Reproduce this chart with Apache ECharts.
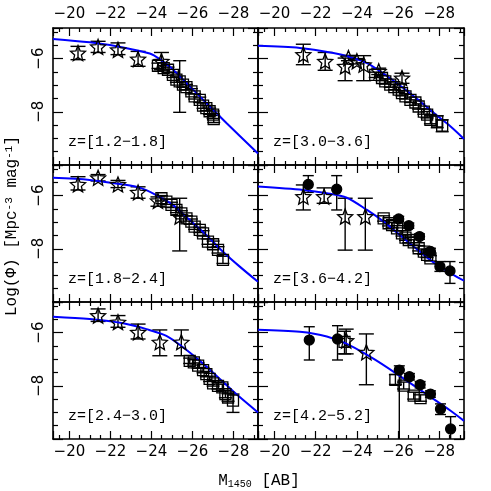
<!DOCTYPE html>
<html><head><meta charset="utf-8">
<script src="https://cdn.jsdelivr.net/npm/echarts@6/dist/echarts.min.js"></script>
<style>html,body{margin:0;padding:0;background:#fff}#c{width:491px;height:491px}</style>
</head><body><div id="c"></div>
<script>
// ---------- tick labels / panel labels ----------
const xTickLabels = [-20, -22, -24, -26, -28];
const yTickLabels = [-6, -8];
const panelLabels = ['z=[1.2\u22121.8]', 'z=[3.0\u22123.6]', 'z=[1.8\u22122.4]', 'z=[3.6\u22124.2]', 'z=[2.4\u22123.0]', 'z=[4.2\u22125.2]'];

// ---------- data: [M1450, logPhi, logPhi_low, logPhi_high] ----------
// panel 1 : z=[1.2-1.8]
const p1Stars = [
  [-20.42, -5.79, -6.04, -5.54], [-21.40, -5.56, -5.77, -5.35], [-22.37, -5.67, -5.85, -5.41],
  [-23.35, -6.02, -6.29, -5.73], [-24.49, -6.10, -6.42, -5.77]
];
const p1Squares = [
  [-24.32, -6.27, -6.37, -6.17], [-24.60, -6.36, -6.46, -6.26], [-24.81, -6.42, -6.52, -6.32],
  [-25.05, -6.61, -6.71, -6.51], [-25.22, -6.79, -6.89, -6.69], [-25.38, -6.86, -8.02, -6.08],
  [-25.54, -6.98, -7.08, -6.88], [-25.71, -7.07, -7.17, -6.97], [-25.95, -7.23, -7.33, -7.13],
  [-26.11, -7.42, -7.52, -7.32], [-26.36, -7.55, -7.65, -7.45], [-26.52, -7.77, -7.87, -7.67],
  [-26.68, -7.86, -7.96, -7.76], [-26.84, -7.98, -8.10, -7.86], [-27.01, -8.11, -8.25, -7.97],
  [-27.04, -8.27, -8.40, -8.14]
];
const p1Model = [[-19.2, -5.26], [-20.99, -5.39], [-22.62, -5.58], [-23.92, -5.81], [-24.41, -6.02],
  [-24.98, -6.36], [-25.79, -6.98], [-26.68, -7.67], [-27.66, -8.42], [-29.2, -9.57]];

// panel 2 : z=[3.0-3.6]
const p2Stars = [
  [-21.40, -5.85, -6.23, -5.46], [-22.46, -6.10, -6.44, -5.77], [-23.43, -6.29, -6.83, -5.98],
  [-23.59, -5.98, -6.08, -5.88], [-24.00, -6.10, -6.20, -6.00], [-24.33, -6.23, -6.83, -5.89],
  [-25.06, -6.48, -6.60, -6.36], [-26.19, -6.73, -6.93, -6.55]
];
const p2Squares = [
  [-24.89, -6.61, -6.71, -6.51], [-25.22, -6.73, -6.83, -6.63], [-25.38, -6.86, -6.96, -6.76],
  [-25.62, -6.98, -7.08, -6.88], [-25.82, -7.07, -7.17, -6.97], [-26.03, -7.17, -7.27, -7.07],
  [-26.19, -7.30, -7.40, -7.20], [-26.36, -7.42, -7.52, -7.32], [-26.60, -7.55, -7.65, -7.45],
  [-26.84, -7.65, -7.75, -7.55], [-27.00, -7.80, -7.90, -7.70], [-27.25, -7.99, -8.09, -7.89],
  [-27.41, -8.11, -8.23, -7.99], [-27.57, -8.30, -8.45, -8.15], [-27.90, -8.36, -8.60, -8.15],
  [-28.14, -8.52, -8.75, -8.30]
];
const p2Model = [[-19.2, -5.52], [-21.23, -5.60], [-22.86, -5.79], [-23.67, -5.94], [-24.49, -6.17],
  [-25.30, -6.57], [-26.11, -7.02], [-26.93, -7.52], [-27.74, -8.05], [-28.55, -8.55], [-29.2, -9.02]];

// panel 3 : z=[1.8-2.4]
const p3Stars = [
  [-20.42, -5.58, -5.79, -5.29], [-21.40, -5.33, -5.45, -5.21], [-22.37, -5.58, -5.70, -5.43],
  [-23.35, -5.88, -6.10, -5.67], [-24.32, -6.20, -6.40, -6.05], [-25.38, -6.79, -8.08, -6.10]
];
const p3Squares = [
  [-24.49, -6.10, -6.20, -6.00], [-24.73, -6.23, -6.33, -6.13], [-24.98, -6.35, -6.45, -6.25],
  [-25.22, -6.54, -6.64, -6.44], [-25.46, -6.67, -6.77, -6.57], [-25.71, -6.86, -6.96, -6.76],
  [-25.95, -6.98, -7.08, -6.88], [-26.11, -7.17, -7.27, -7.07], [-26.36, -7.29, -7.39, -7.19],
  [-26.52, -7.42, -7.52, -7.32], [-26.76, -7.73, -7.83, -7.63], [-27.01, -7.83, -7.95, -7.71],
  [-27.25, -8.04, -8.16, -7.92], [-27.49, -8.42, -8.55, -8.28]
];
const p3Model = [[-19.2, -5.33], [-20.99, -5.41], [-22.62, -5.58], [-23.43, -5.70], [-24.24, -5.98],
  [-25.05, -6.35], [-25.87, -6.92], [-26.68, -7.48], [-27.49, -8.11], [-28.31, -8.67], [-29.2, -9.24]];

// panel 4 : z=[3.6-4.2]
const p4Stars = [
  [-21.40, -6.04, -6.54, -5.60], [-22.41, -6.04, -6.29, -5.71],
  [-23.43, -6.79, -8.05, -6.10], [-24.41, -6.79, -8.05, -6.10]
];
const p4Squares = [
  [-25.30, -6.86, -6.96, -6.76], [-25.54, -7.04, -7.14, -6.94], [-25.71, -7.11, -7.21, -7.01],
  [-25.95, -7.23, -7.33, -7.13], [-26.19, -7.42, -7.52, -7.32], [-26.36, -7.58, -7.68, -7.48],
  [-26.52, -7.67, -7.77, -7.57], [-26.76, -7.76, -7.86, -7.66], [-27.00, -7.98, -8.08, -7.88],
  [-27.25, -8.11, -8.21, -8.01], [-27.41, -8.23, -8.33, -8.13], [-27.57, -8.36, -8.46, -8.26]
];
const p4Circles = [
  [-21.64, -5.58, -5.88, -5.25], [-23.02, -5.76, -6.54, -5.25], [-26.03, -6.88, -6.98, -6.78],
  [-26.52, -7.13, -7.23, -7.03], [-27.04, -7.54, -7.64, -7.44], [-27.57, -8.10, -8.22, -7.98],
  [-28.03, -8.67, -8.85, -8.48], [-28.52, -8.83, -9.30, -8.48]
];
const p4Model = [[-19.2, -5.66], [-21.40, -5.79], [-22.54, -5.91], [-23.51, -6.08], [-24.49, -6.54],
  [-25.30, -6.98], [-26.28, -7.61], [-27.25, -8.23], [-27.90, -8.61], [-28.55, -8.92], [-29.2, -9.20]];

// panel 5 : z=[2.4-3.0]
const p5Stars = [
  [-21.40, -5.36, -5.58, -5.11], [-22.37, -5.61, -5.80, -5.36], [-23.35, -5.99, -6.24, -5.68],
  [-24.41, -6.36, -6.87, -5.90], [-25.46, -6.36, -6.87, -5.90]
];
const p5Squares = [
  [-25.87, -7.06, -7.16, -6.96], [-26.07, -7.12, -7.22, -7.02], [-26.28, -7.24, -7.34, -7.14],
  [-26.52, -7.41, -7.51, -7.31], [-26.68, -7.56, -7.66, -7.46], [-26.84, -7.74, -7.84, -7.64],
  [-27.01, -7.91, -8.01, -7.81], [-27.25, -8.00, -8.12, -7.88], [-27.46, -8.06, -8.18, -7.94],
  [-27.61, -8.31, -8.45, -8.17], [-27.74, -8.44, -8.58, -8.30], [-27.98, -8.56, -9.00, -8.31]
];
const p5Model = [[-19.2, -5.40], [-20.99, -5.49], [-22.62, -5.65], [-23.76, -5.87], [-24.73, -6.12],
  [-25.54, -6.55], [-26.36, -7.06], [-27.17, -7.62], [-28.14, -8.31], [-29.2, -9.00]];

// panel 6 : z=[4.2-5.2]
const p6Stars = [
  [-23.48, -6.30, -6.80, -5.87], [-24.46, -6.74, -7.96, -6.05]
];
const p6Squares = [
  [-23.40, -6.35, -6.80, -5.95], [-25.87, -7.78, -7.95, -7.58], [-26.27, -7.99, -8.12, -7.86],
  [-26.76, -8.37, -8.50, -8.24], [-27.09, -8.46, -8.58, -8.34]
];
const p6Circles = [
  [-21.69, -6.28, -7.03, -5.78], [-23.06, -6.24, -7.03, -5.74], [-26.06, -7.41, -10.5, -7.25],
  [-26.55, -7.66, -7.78, -7.54], [-27.07, -7.96, -8.08, -7.84], [-27.57, -8.31, -8.43, -8.19],
  [-28.06, -8.87, -9.08, -8.68], [-28.55, -9.62, -10.5, -9.16]
];
const p6Model = [[-19.2, -5.89], [-21.23, -5.97], [-22.54, -6.15], [-23.68, -6.49], [-24.82, -6.99],
  [-25.95, -7.56], [-27.25, -8.25], [-28.55, -8.94], [-29.2, -9.32]];

// ---------- layout & style ----------
const X_MIN = -29.2, X_MAX = -19.2, Y_MIN = -10, Y_MAX = -4.85;
const COL_LEFT = [53, 258], COL_W = [205, 206];
const ROW_TOP = [28, 165, 302], ROW_H = 137;
const STAR = 'path://M10 0 L12.645 6.36 L19.511 6.91 L14.28 11.39 L15.878 18.09 L10 14.5 L4.122 18.09 L5.72 11.39 L0.489 6.91 L7.355 6.36 Z';
const TICK_FONT = 'DejaVu Sans';
const MONO = 'Liberation Mono';

const panels = [
  {stars: p1Stars, squares: p1Squares, circles: [], model: p1Model},
  {stars: p2Stars, squares: p2Squares, circles: [], model: p2Model},
  {stars: p3Stars, squares: p3Squares, circles: [], model: p3Model},
  {stars: p4Stars, squares: p4Squares, circles: p4Circles, model: p4Model},
  {stars: p5Stars, squares: p5Squares, circles: [], model: p5Model},
  {stars: p6Stars, squares: p6Squares, circles: p6Circles, model: p6Model}
];

const fmtNum = v => String(v).replace('-', '\u2212');

function xAx(i, pos, showLabel) {
  return {
    type: 'value', gridIndex: i, position: pos, min: X_MIN, max: X_MAX, inverse: true, splitNumber: 5,
    axisLine: {show: true, onZero: false, lineStyle: {color: '#000', width: 1.6}},
    axisTick: {show: true, inside: true, length: 8, lineStyle: {color: '#000', width: 1.2}},
    minorTick: {show: true, splitNumber: 4, length: 4, lineStyle: {color: '#000', width: 1.2}},
    splitLine: {show: false},
    axisLabel: {show: showLabel, margin: 6, color: '#000', fontFamily: TICK_FONT, fontSize: 15,
      formatter: v => xTickLabels.includes(v) ? fmtNum(v) : ''}
  };
}
function yAx(i, pos, showLabel) {
  return {
    type: 'value', gridIndex: i, position: pos, min: Y_MIN, max: Y_MAX, interval: 2,
    axisLine: {show: true, onZero: false, lineStyle: {color: '#000', width: 1.6}},
    axisTick: {show: true, inside: true, length: 10, lineStyle: {color: '#000', width: 1.2}},
    minorTick: {show: true, splitNumber: 4, length: 5, lineStyle: {color: '#000', width: 1.2}},
    splitLine: {show: false},
    axisLabel: {show: showLabel, margin: 6, rotate: 90, color: '#000', fontFamily: TICK_FONT, fontSize: 15,
      formatter: v => yTickLabels.includes(v) ? fmtNum(v) : ''}
  };
}
function errRender(cap) {
  return function (params, api) {
    const x = api.value(0), lo = api.value(2), hi = api.value(3);
    const a = api.coord([x, hi]), b = api.coord([x, lo]);
    const s = {stroke: '#000', lineWidth: 1.4, fill: null};
    return {type: 'group', children: [
      {type: 'line', shape: {x1: a[0], y1: a[1], x2: b[0], y2: b[1]}, style: s},
      {type: 'line', shape: {x1: a[0] - cap / 2, y1: a[1], x2: a[0] + cap / 2, y2: a[1]}, style: s},
      {type: 'line', shape: {x1: b[0] - cap / 2, y1: b[1], x2: b[0] + cap / 2, y2: b[1]}, style: s}
    ]};
  };
}

const grids = [], xAxes = [], yAxes = [], series = [], graphics = [];
panels.forEach((p, i) => {
  const r = Math.floor(i / 2), c = i % 2;
  grids.push({left: COL_LEFT[c], top: ROW_TOP[r], width: COL_W[c], height: ROW_H, containLabel: false});
  xAxes.push(xAx(i, 'bottom', r === 2));
  xAxes.push(xAx(i, 'top', r === 0));
  yAxes.push(yAx(i, 'left', c === 0));
  yAxes.push(yAx(i, 'right', false));
  const ax = {xAxisIndex: 2 * i, yAxisIndex: 2 * i};
  const groups = [
    {d: p.stars, cap: 15, sym: STAR, size: 15, fill: 'rgba(0,0,0,0)'},
    {d: p.squares, cap: 13, sym: 'rect', size: 11, fill: 'rgba(0,0,0,0)'},
    {d: p.circles, cap: 11, sym: 'circle', size: 10, fill: '#000'}
  ];
  groups.forEach(g => {
    if (!g.d.length) return;
    series.push(Object.assign({type: 'custom', data: g.d, encode: {x: 0, y: 1}, clip: true, z: 2,
      renderItem: errRender(g.cap), silent: true}, ax));
  });
  series.push(Object.assign({type: 'line', data: p.model, showSymbol: false, smooth: 0.3, clip: true, z: 3,
    lineStyle: {color: '#0000ff', width: 2}}, ax));
  groups.forEach(g => {
    if (!g.d.length) return;
    series.push(Object.assign({type: 'scatter', data: g.d.map(q => [q[0], q[1]]), symbol: g.sym, symbolSize: g.size, z: 4,
      itemStyle: {color: g.fill, borderColor: '#000', borderWidth: 1.3, opacity: 1}}, ax));
  });
  graphics.push({type: 'text', x: COL_LEFT[c] + 15, y: ROW_TOP[r] + ROW_H - 23,
    style: {text: panelLabels[i], fontFamily: MONO, fontSize: 15, fill: '#000', align: 'left', verticalAlign: 'middle'}});
});

graphics.push({type: 'text', x: 12, y: 226, rotation: Math.PI / 2,
  style: {text: 'Log(\u03A6) [Mpc{sup|-3} mag{sup|-1}]', fontFamily: MONO, fontSize: 16, fill: '#000',
    align: 'center', verticalAlign: 'middle',
    rich: {sup: {fontFamily: MONO, fontSize: 11, verticalAlign: 'top', lineHeight: 11}}}});
graphics.push({type: 'text', x: 259, y: 481,
  style: {text: 'M{sub|1450} [AB]', fontFamily: MONO, fontSize: 16, fill: '#000',
    align: 'center', verticalAlign: 'middle',
    rich: {sub: {fontFamily: MONO, fontSize: 10, verticalAlign: 'bottom', lineHeight: 10}}}});

const chart = echarts.init(document.getElementById('c'), null, {renderer: 'canvas'});
chart.setOption({
  animation: false,
  backgroundColor: '#fff',
  grid: grids, xAxis: xAxes, yAxis: yAxes, series: series, graphic: graphics
});
</script></body></html>
